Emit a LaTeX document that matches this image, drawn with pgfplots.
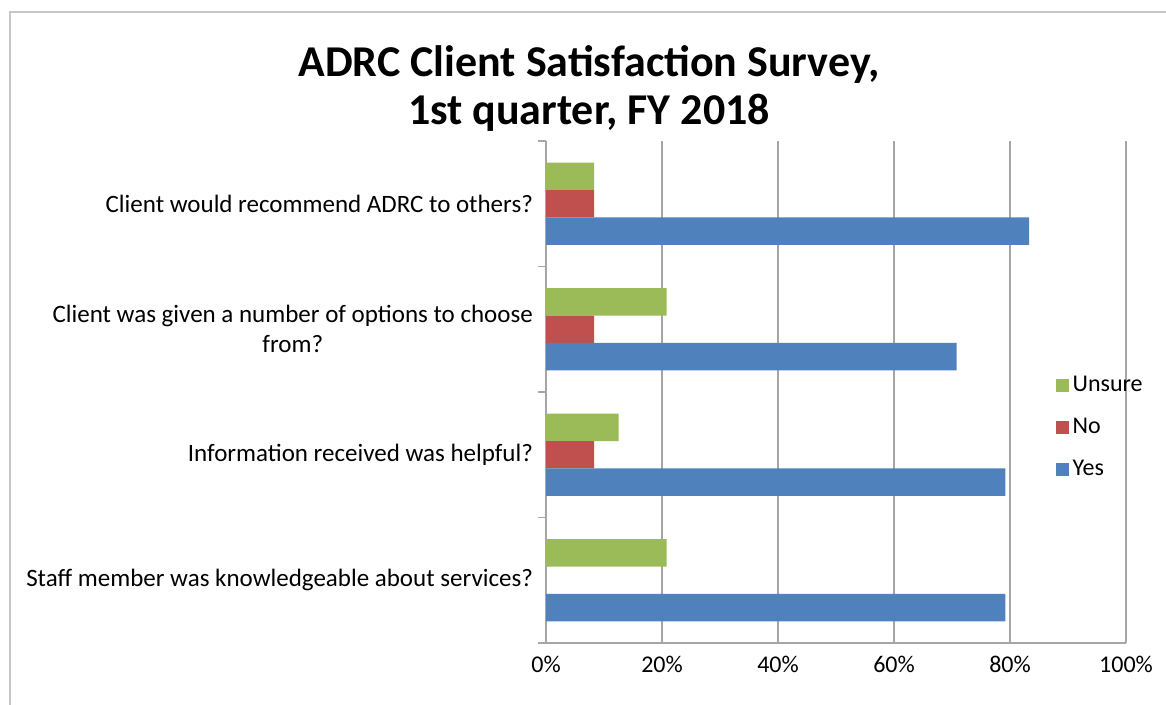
\documentclass[border=0pt]{standalone}
\usepackage{fontspec}
\setmainfont{Carlito}
\usepackage{pgfplots}
\pgfplotsset{compat=1.18}
\definecolor{cgreen}{HTML}{9BBB59}
\definecolor{cred}{HTML}{C0504D}
\definecolor{cblue}{HTML}{4F81BD}
\begin{document}
\begin{tikzpicture}
\useasboundingbox (0pt,0pt) rectangle (583pt,352.5pt);
% chart frame
\draw[gray!45, line width=1pt] (5pt,0pt) -- (5pt,346.5pt) -- (583pt,346.5pt);
\node[font=\fontsize{22}{24}\selectfont\bfseries, align=center] at (294.5pt,308pt)
  {ADRC Client Satisfaction Survey,\\1st quarter, FY 2018};
\begin{axis}[
  at={(273pt,31pt)}, anchor=south west,
  scale only axis, width=290pt, height=251pt,
  xbar, bar width=13.7pt,
  xmin=0, xmax=100, ymin=-0.5, ymax=3.5,
  axis lines*=left,
  axis line style={gray!70, line width=0.8pt},
  xtick={0,20,...,100},
  xticklabels={0\%,20\%,40\%,60\%,80\%,100\%},
  xmajorgrids, grid style={gray!70, line width=0.8pt},
  ytick={0,1,2,3},
  yticklabels={Staff member was knowledgeable about services?,
    Information received was helpful?,
    Client was given a number of options to choose\\from?,
    Client would recommend ADRC to others?},
  major tick length=0pt,
  minor ytick={-0.5,0.5,1.5,2.5,3.5},
  minor tick length=4pt, tick align=outside,
  minor tick style={gray!70, line width=0.6pt},
  tick label style={font=\fontsize{12}{14.5}\selectfont},
  yticklabel style={align=center, xshift=-3pt, font=\fontsize{12.5}{15}\selectfont},
  xticklabel style={yshift=-3pt},
  legend style={at={(0.868,0.548)}, anchor=north west, draw=none, fill=none,
    font=\fontsize{12}{14.5}\selectfont, row sep=7.8pt},
  legend cell align=left,
  legend image code/.code={\fill[#1] (0pt,-3.2pt) rectangle (6.4pt,3.2pt);},
]
\addplot[fill=cgreen, draw=none, bar shift=13.7pt] coordinates {(20.8,0) (12.5,1) (20.8,2) (8.3,3)};
\addplot[fill=cred, draw=none, bar shift=0pt] coordinates {(8.3,1) (8.3,2) (8.3,3)};
\addplot[fill=cblue, draw=none, bar shift=-13.7pt] coordinates {(79.2,0) (79.2,1) (70.8,2) (83.3,3)};
\legend{Unsure,No,Yes}
\end{axis}
\end{tikzpicture}
\end{document}
